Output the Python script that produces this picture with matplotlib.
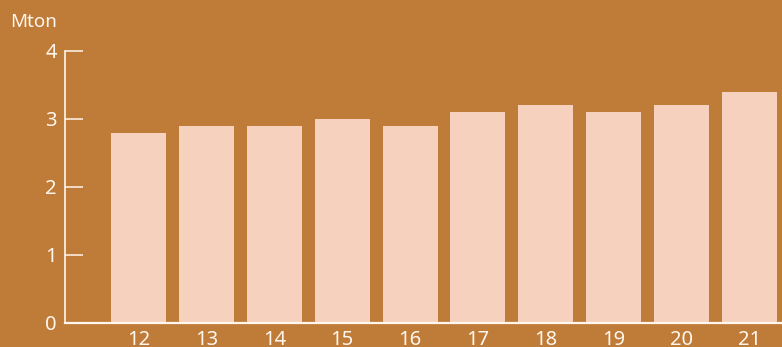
import matplotlib
matplotlib.use("Agg")
import matplotlib.pyplot as plt

# Mton per year
YEARS = [12, 13, 14, 15, 16, 17, 18, 19, 20, 21]
VALUES = [2.8, 2.9, 2.9, 3.0, 2.9, 3.1, 3.2, 3.1, 3.2, 3.4]
Y_TICKS = [0, 1, 2, 3, 4]

BG = "#BF7B38"
BAR = "#F5D1BE"
FG = "#FFF6EE"

plt.rcParams["font.family"] = ["Noto Sans", "DejaVu Sans"]

fig = plt.figure(figsize=(7.82, 3.47), dpi=100, facecolor=BG)
ax = fig.add_axes([65 / 782, 24 / 347, 1 - 65 / 782, 272 / 347])
ax.set_facecolor(BG)

ax.bar(YEARS, VALUES, width=0.81, color=BAR, zorder=2)

ax.set_xlim(10.918, 21.479)
ax.set_ylim(0, 4)
ax.set_yticks(Y_TICKS)
ax.set_xticks(YEARS)

for side in ["top", "right"]:
    ax.spines[side].set_visible(False)
ax.spines["left"].set_color(FG)
ax.spines["left"].set_linewidth(1.2)
ax.spines["bottom"].set_color(FG)
ax.spines["bottom"].set_linewidth(1.6)
ax.spines["bottom"].set_zorder(3)

ax.tick_params(axis="y", direction="in", length=13, width=1.1, color=FG,
               labelcolor=FG, labelsize=14.5, pad=6)
ax.tick_params(axis="x", length=0, labelcolor=FG, labelsize=14.5, pad=5)

fig.text(10 / 782, 1 - 22 / 347, "Mton", color=FG, fontsize=13.5,
         ha="left", va="center")

fig.savefig("out.png", dpi=100, facecolor=BG)
